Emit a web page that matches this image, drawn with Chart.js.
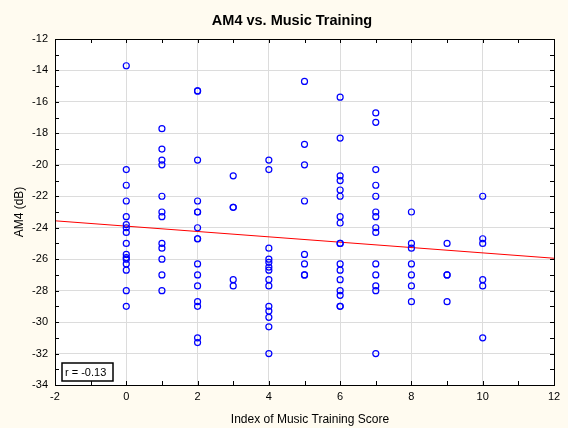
<!DOCTYPE html>
<html>
<head>
<meta charset="utf-8">
<script src="https://cdn.jsdelivr.net/npm/chart.js@4.4.0/dist/chart.umd.min.js"></script>
<style>
  html, body { margin: 0; padding: 0; background: #fffbf0; }
  #wrap { width: 568px; height: 428px; position: relative; }
</style>
</head>
<body>
<div id="wrap"><canvas id="am4-chart" width="568" height="428"></canvas></div>
<script>
// AM4 values (dB), one list per music training score
const scores = [0, 1, 2, 3, 4, 5, 6, 7, 8, 9, 10];
const am4Score0 = [-13.7, -20.3, -21.3, -22.3, -23.3, -23.8, -24.0, -24.3, -25.0, -25.7, -25.9, -26.0, -26.3, -26.7, -28.0, -29.0];
const am4Score1 = [-17.7, -19.0, -19.7, -20.0, -22.0, -23.0, -23.3, -25.0, -25.3, -26.0, -27.0, -28.0];
const am4Score2 = [-15.3, -15.3, -19.7, -22.3, -23.0, -23.0, -24.0, -24.7, -24.7, -26.3, -27.0, -27.7, -28.7, -29.0, -31.0, -31.3];
const am4Score3 = [-20.7, -22.7, -22.7, -27.3, -27.7];
const am4Score4 = [-19.7, -20.3, -25.3, -26.0, -26.2, -26.5, -26.7, -27.3, -27.7, -29.0, -29.3, -29.7, -30.3, -32.0];
const am4Score5 = [-14.7, -18.7, -20.0, -22.3, -25.7, -26.3, -27.0, -27.0];
const am4Score6 = [-15.7, -18.3, -20.7, -21.0, -21.6, -22.0, -23.3, -23.7, -25.0, -25.0, -26.3, -26.7, -27.3, -28.0, -28.3, -29.0, -29.0];
const am4Score7 = [-16.7, -17.3, -20.3, -21.3, -22.0, -23.0, -23.3, -24.0, -24.3, -26.3, -27.0, -27.7, -28.0, -32.0];
const am4Score8 = [-23.0, -25.0, -25.3, -26.3, -27.0, -27.7, -28.7];
const am4Score9 = [-25.0, -27.0, -27.0, -28.7];
const am4Score10 = [-22.0, -24.7, -25.0, -27.3, -27.7, -31.0];
const am4Columns = [am4Score0, am4Score1, am4Score2, am4Score3, am4Score4, am4Score5,
                    am4Score6, am4Score7, am4Score8, am4Score9, am4Score10];

// fitted regression line end points
const fitX = [-2, 12];
const fitY = [-23.56, -25.94];
const rLabel = 'r = -0.13';

const xTicks = [-2, 0, 2, 4, 6, 8, 10, 12];
const yTicks = [-34, -32, -30, -28, -26, -24, -22, -20, -18, -16, -14, -12];

const points = [];
scores.forEach((s, i) => am4Columns[i].forEach(v => points.push({ x: s, y: v })));

const FONT = '"Liberation Sans", Arial, sans-serif';

// white plot area, black frame, inner minor ticks, titles, r box
const framePlugin = {
    id: 'frame',
    beforeDraw(chart) {
        const { ctx, chartArea: a } = chart;
        ctx.save();
        ctx.fillStyle = '#ffffff';
        ctx.fillRect(a.left, a.top, a.right - a.left, a.bottom - a.top);
        ctx.restore();
    },
    afterDraw(chart) {
        const { ctx, chartArea: a, scales } = chart;
        ctx.save();
        ctx.strokeStyle = '#000';
        ctx.lineWidth = 1;
        ctx.beginPath();
        for (let v = xTicks[0]; v <= xTicks[xTicks.length - 1]; v++) {
            const px = Math.round(scales.x.getPixelForValue(v)) + 0.5;
            ctx.moveTo(px, a.top); ctx.lineTo(px, a.top + 4);
            ctx.moveTo(px, a.bottom); ctx.lineTo(px, a.bottom - 4);
        }
        for (let v = yTicks[0]; v <= yTicks[yTicks.length - 1]; v++) {
            const py = Math.round(scales.y.getPixelForValue(v)) + 0.5;
            ctx.moveTo(a.left, py); ctx.lineTo(a.left + 4, py);
            ctx.moveTo(a.right, py); ctx.lineTo(a.right - 4, py);
        }
        ctx.stroke();
        ctx.strokeRect(Math.round(a.left) + 0.5, Math.round(a.top) + 0.5,
                       Math.round(a.right - a.left), Math.round(a.bottom - a.top));

        // titles
        ctx.fillStyle = '#000';
        ctx.textAlign = 'center';
        ctx.textBaseline = 'middle';
        ctx.font = 'bold 14.5px ' + FONT;
        ctx.fillText('AM4 vs. Music Training', 292, 21);
        ctx.font = '12px ' + FONT;
        ctx.fillText('Index of Music Training Score', 310, 420);

        // r box
        const bx = a.left + 7, by = a.bottom - 22, bw = 51, bh = 18;
        ctx.fillStyle = '#fff';
        ctx.fillRect(bx, by, bw, bh);
        ctx.lineWidth = 1.5;
        ctx.strokeRect(bx, by, bw, bh);
        ctx.fillStyle = '#000';
        ctx.textAlign = 'left';
        ctx.font = '11px ' + FONT;
        ctx.fillText(rLabel, bx + 3, by + bh / 2 + 0.5);
        ctx.restore();
    }
};

const ctx = document.getElementById('am4-chart').getContext('2d');
new Chart(ctx, {
    type: 'scatter',
    data: {
        datasets: [{
            label: 'AM4',
            data: points,
            showLine: false,
            pointStyle: 'circle',
            pointRadius: 3,
            pointBorderWidth: 1.2,
            pointBorderColor: '#0000ff',
            pointBackgroundColor: 'rgba(0,0,0,0)',
            order: 1
        }, {
            label: 'fit',
            data: fitX.map((x, i) => ({ x: x, y: fitY[i] })),
            showLine: true,
            borderColor: '#ff0000',
            borderWidth: 1,
            pointRadius: 0,
            order: 2
        }]
    },
    options: {
        responsive: false,
        animation: false,
        layout: { padding: { left: 0, right: 14, top: 39, bottom: 0 } },
        plugins: {
            legend: { display: false },
            tooltip: { enabled: false },
            title: { display: false }
        },
        scales: {
            x: {
                type: 'linear',
                min: -2, max: 12,
                afterBuildTicks: s => { s.ticks = xTicks.map(v => ({ value: v })); },
                afterFit: s => { s.height = 43; },
                ticks: { color: '#000', font: { family: FONT, size: 11 }, padding: 5 },
                grid: { color: '#dcdcdc', drawTicks: false },
                border: { display: false }
            },
            y: {
                type: 'linear',
                min: -34, max: -12,
                afterBuildTicks: s => { s.ticks = yTicks.map(v => ({ value: v })); },
                afterFit: s => { s.width = 55; },
                ticks: { color: '#000', font: { family: FONT, size: 11 }, padding: 7 },
                grid: { color: '#dcdcdc', drawTicks: false },
                border: { display: false },
                title: {
                    display: true,
                    text: 'AM4 (dB)',
                    color: '#000',
                    font: { family: FONT, size: 12 },
                    padding: { top: 12, bottom: 0 }
                }
            }
        }
    },
    plugins: [framePlugin]
});
</script>
</body>
</html>
